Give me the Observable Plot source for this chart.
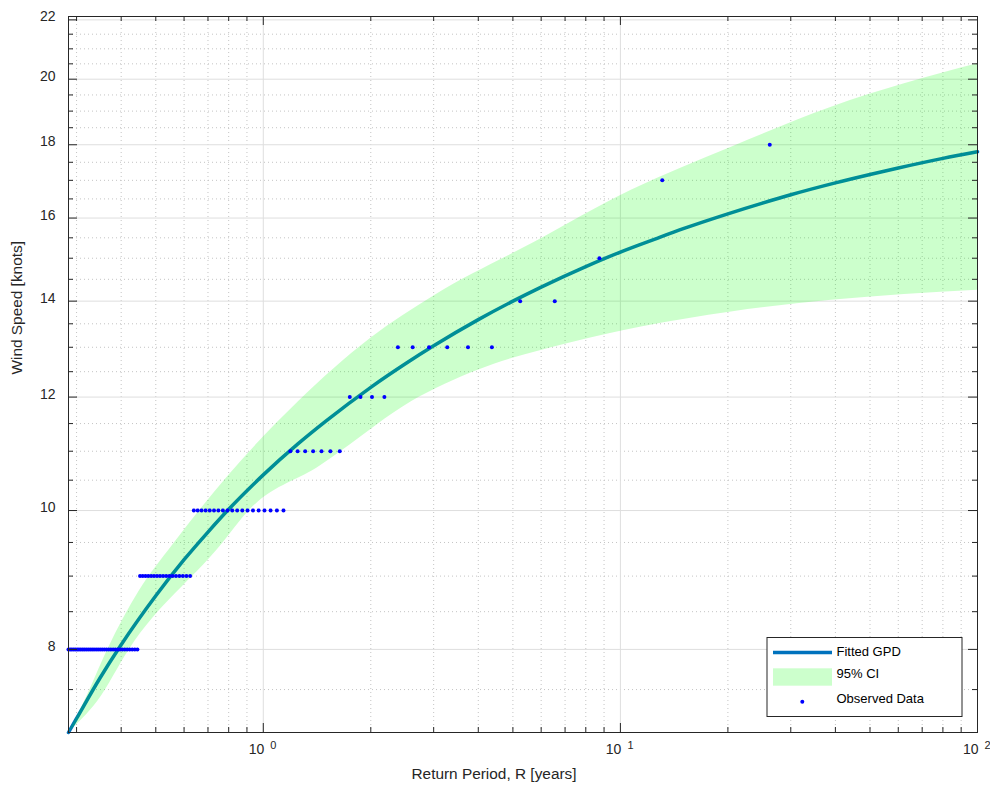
<!DOCTYPE html>
<html>
<head>
<meta charset="utf-8">
<script src="https://cdn.jsdelivr.net/npm/d3@7"></script>
<script src="https://cdn.jsdelivr.net/npm/@observablehq/plot@0.6"></script>
<style>
  html, body { margin: 0; padding: 0; background: #fff; }
  #chart { width: 990px; height: 789px; }
</style>
</head>
<body>
<div id="chart"></div>
<script>
// ---- data ----
// fitted GPD return level curve
const fitPeriod = [0.2848, 0.3, 0.35, 0.4, 0.5, 0.6, 0.7, 0.8, 1, 1.25, 1.5, 2, 2.5, 3, 4, 5, 6, 8, 10, 12.5, 15, 20, 25, 30, 40, 50, 60, 80, 100];
const fitSpeed  = [7.00, 7.16, 7.65, 8.06, 8.72, 9.24, 9.66, 10.02, 10.59, 11.13, 11.55, 12.19, 12.66, 13.03, 13.59, 14.00, 14.32, 14.80, 15.15, 15.47, 15.73, 16.11, 16.39, 16.61, 16.93, 17.16, 17.34, 17.61, 17.80];
// 95% confidence band edges
const upperPeriod = [0.2848, 0.316, 0.367, 0.45, 0.558, 0.8, 1.25, 2, 3.02, 5.75, 10.73, 20.46, 39, 100];
const upperSpeed  = [7.00, 7.36, 8.00, 8.79, 9.46, 10.58, 11.90, 13.19, 14.13, 15.39, 16.73, 17.93, 19.12, 20.50];
const lowerPeriod = [0.2848, 0.344, 0.422, 0.763, 0.914, 1.45, 1.654, 2.598, 3.994, 7.14, 11.45, 20.46, 39, 100];
const lowerSpeed  = [7.00, 7.36, 8.00, 9.46, 10.00, 10.75, 11.00, 11.91, 12.53, 13.08, 13.43, 13.76, 14.02, 14.25];

// observed wind speeds (sorted, largest first) and how many of each
const obsLevels = [18, 17, 15, 14, 13, 12, 11, 10, 9, 8];
const obsCounts = [1, 1, 1, 2, 6, 4, 7, 19, 17, 34];
const recordYears = 26.2; // empirical return period = recordYears / rank

const xMajorTicks = [1, 10, 100];
const xMinorTicks = [0.3, 0.4, 0.5, 0.6, 0.7, 0.8, 0.9, 2, 3, 4, 5, 6, 7, 8, 9, 20, 30, 40, 50, 60, 70, 80, 90];
const yMajorTicks = [8, 10, 12, 14, 16, 18, 20, 22];
const yMinorTicks = [7.5, 8.5, 9, 9.5, 10.5, 11, 11.5, 12.5, 13, 13.5, 14.5, 15, 15.5, 16.5, 17, 17.5, 18.5, 19, 19.5, 20.5, 21, 21.5];

// ---- derived tables ----
const fit = fitPeriod.map((r, i) => ({r, v: fitSpeed[i]}));
const band = upperPeriod.map((r, i) => ({ru: r, vu: upperSpeed[i], rl: lowerPeriod[i], vl: lowerSpeed[i]}));
const obs = [];
let rank = 1;
obsLevels.forEach((lvl, k) => {
  for (let c = 0; c < obsCounts[k]; c++) { obs.push({r: recordYears / rank, v: lvl}); rank++; }
});

const W = 990, H = 789, mL = 68, mR = 13, mT = 16, mB = 57;
const frameH = H - mT - mB, frameW = W - mL - mR;
const axisColor = "#262626";
const majorLen = 9, minorLen = 5;
const font = "'Liberation Sans', Arial, Helvetica, sans-serif";

const chart = Plot.plot({
  width: W, height: H,
  marginLeft: mL, marginRight: mR, marginTop: mT, marginBottom: mB,
  style: {fontFamily: font, background: "#fff"},
  x: {type: "log", domain: [0.2848, 100], axis: null},
  y: {type: "log", domain: [7, 22.12], axis: null},
  marks: [
    // grid
    Plot.ruleY(yMinorTicks, {y: d => d, stroke: "#c4c4c4", strokeWidth: 1, strokeDasharray: "1,3"}),
    Plot.ruleX(xMinorTicks, {x: d => d, stroke: "#c4c4c4", strokeWidth: 1, strokeDasharray: "1,3"}),
    Plot.ruleY(yMajorTicks, {y: d => d, stroke: "#dedede", strokeWidth: 1}),
    Plot.ruleX(xMajorTicks, {x: d => d, stroke: "#dedede", strokeWidth: 1}),
    // fitted curve, then CI overlay (translucent), then observations
    Plot.line(fit, {x: "r", y: "v", stroke: "#0072BD", strokeWidth: 3.5, curve: "monotone-x"}),
    Plot.area(band, {x1: "ru", y1: "vu", x2: "rl", y2: "vl", fill: "#00ff00", fillOpacity: 0.2, curve: "monotone-x"}),
    Plot.dot(obs, {x: "r", y: "v", r: 2, fill: "#0000ff", stroke: "none"}),
    // box
    Plot.frame({stroke: axisColor, strokeWidth: 1}),
    // inward ticks: bottom, top, left, right
    Plot.tickX(xMajorTicks, {x: d => d, stroke: axisColor, insetTop: frameH - majorLen}),
    Plot.tickX(xMinorTicks, {x: d => d, stroke: axisColor, insetTop: frameH - minorLen}),
    Plot.tickX(xMajorTicks, {x: d => d, stroke: axisColor, insetBottom: frameH - majorLen}),
    Plot.tickX(xMinorTicks, {x: d => d, stroke: axisColor, insetBottom: frameH - minorLen}),
    Plot.tickY(yMajorTicks, {y: d => d, stroke: axisColor, insetRight: frameW - majorLen}),
    Plot.tickY(yMinorTicks, {y: d => d, stroke: axisColor, insetRight: frameW - minorLen}),
    Plot.tickY(yMajorTicks, {y: d => d, stroke: axisColor, insetLeft: frameW - majorLen}),
    Plot.tickY(yMinorTicks, {y: d => d, stroke: axisColor, insetLeft: frameW - minorLen}),
    // tick labels
    Plot.text(yMajorTicks, {y: d => d, frameAnchor: "left", text: d => String(d), textAnchor: "end", dx: -13, dy: -3, fontSize: 14, fill: axisColor}),
    Plot.text(xMajorTicks, {x: d => d, frameAnchor: "bottom", text: () => "10", textAnchor: "end", dx: 1, dy: 21.5, fontSize: 14, fill: axisColor}),
    Plot.text(xMajorTicks, {x: d => d, frameAnchor: "bottom", text: d => String(Math.round(Math.log10(d))), textAnchor: "start", dx: 7, dy: 16, fontSize: 11, fill: axisColor}),
    // axis titles
    Plot.text(["Return Period, R [years]"], {frameAnchor: "bottom", text: d => d, dx: -29, dy: 46, fontSize: 15.4, fill: axisColor}),
    Plot.text(["Wind Speed [knots]"], {frameAnchor: "left", text: d => d, rotate: -90, dx: -51, fontSize: 15.4, fill: axisColor})
  ]
});

document.getElementById("chart").appendChild(chart);

// legend (box in the lower right of the axes)
const svg = d3.select(chart);
const lg = svg.append("g").attr("font-family", font).attr("font-size", 13).attr("text-anchor", "start");
lg.append("rect").attr("x", 767).attr("y", 637.5).attr("width", 195).attr("height", 79)
  .attr("fill", "#fff").attr("stroke", axisColor).attr("stroke-width", 1);
lg.append("line").attr("x1", 773).attr("x2", 832).attr("y1", 652.5).attr("y2", 652.5)
  .attr("stroke", "#0072BD").attr("stroke-width", 3.5);
lg.append("rect").attr("x", 773).attr("y", 668.3).attr("width", 59).attr("height", 17.4)
  .attr("fill", "#00ff00").attr("fill-opacity", 0.2);
lg.append("circle").attr("cx", 802.3).attr("cy", 701.7).attr("r", 2).attr("fill", "#0000ff");
const legendLabels = [["Fitted GPD", 655.8], ["95% CI", 678.4], ["Observed Data", 703.2]];
legendLabels.forEach(([t, y]) => lg.append("text").attr("x", 836.5).attr("y", y).attr("fill", "#000").attr("text-anchor", "start").text(t));
</script>
</body>
</html>
